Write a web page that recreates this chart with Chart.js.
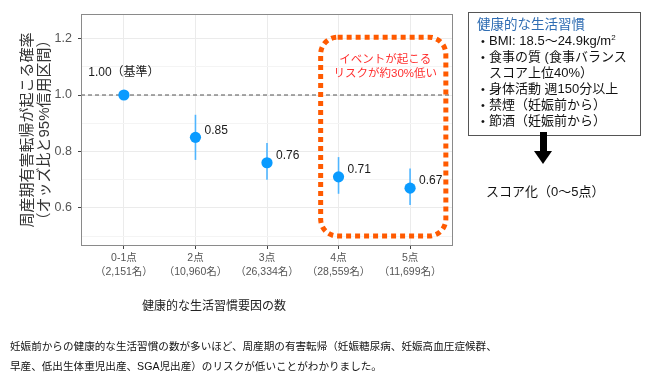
<!DOCTYPE html>
<html lang="ja">
<head>
<meta charset="utf-8">
<script src="https://cdn.jsdelivr.net/npm/chart.js@4.4.1/dist/chart.umd.min.js"></script>
<style>
  html, body { margin: 0; padding: 0; background: #fff; }
  body { width: 650px; height: 383px; position: relative; overflow: hidden;
         font-family: "Liberation Sans", "Noto Sans CJK JP", sans-serif; }
  #c { position: absolute; left: 0; top: 0; }
  .abs { position: absolute; white-space: nowrap; }
  #side { left: 468px; top: 12px; width: 171px; height: 118px; border: 1px solid #555;
          padding: 4px 0 0 0; box-sizing: content-box; font-size: 13px; line-height: 16px; color: #111; }
  #side .ttl { color: #2f6db3; font-size: 13.5px; padding-left: 8px; }
  #side .it { position: relative; padding-left: 20px; }
  #side .it::before { content: "•"; position: absolute; left: 12px; top: 0; font-size: 11px; }
  #side .cont { padding-left: 20px; }
  #shaft { left: 540px; top: 132px; width: 7px; height: 20px; background: #000; }
  #head { left: 534px; top: 151px; width: 0; height: 0; border-left: 9.5px solid transparent;
          border-right: 9.5px solid transparent; border-top: 13px solid #000; }
  #score { left: 486px; top: 183px; font-size: 13px; line-height: 17px; color: #111; }
  #xtitle { left: 214px; top: 298px; transform: translateX(-50%); font-size: 12px; line-height: 16px; color: #222; }
  #caption { left: 10px; top: 337px; font-size: 10.6px; line-height: 19.5px; color: #111; }
</style>
</head>
<body>
<canvas id="c" width="650" height="383"></canvas>
<div id="side" class="abs">
  <div class="ttl">健康的な生活習慣</div>
  <div class="it">BMI: 18.5〜24.9kg/m<sup style="font-size:8px;line-height:0">2</sup></div>
  <div class="it">食事の質 (食事バランス</div>
  <div class="cont">スコア上位40%）</div>
  <div class="it">身体活動 週150分以上</div>
  <div class="it">禁煙（妊娠前から）</div>
  <div class="it">節酒（妊娠前から）</div>
</div>
<div id="shaft" class="abs"></div>
<div id="head" class="abs"></div>
<div id="score" class="abs">スコア化（0〜5点）</div>
<div id="xtitle" class="abs">健康的な生活習慣要因の数</div>
<div id="caption" class="abs">妊娠前からの健康的な生活習慣の数が多いほど、周産期の有害転帰（妊娠糖尿病、妊娠高血圧症候群、<br>早産、低出生体重児出産、SGA児出産）のリスクが低いことがわかりました。</div>
<script>
// ---- data ----
const categories = ['0-1点', '2点', '3点', '4点', '5点'];
const sampleSizes = ['（2,151名）', '（10,960名）', '（26,334名）', '（28,559名）', '（11,699名）'];
const oddsRatio = [1.00, 0.85, 0.76, 0.71, 0.67];
const ciLower = [null, 0.77, 0.70, 0.65, 0.61];
const ciUpper = [null, 0.93, 0.83, 0.78, 0.74];
const valueLabels = ['1.00（基準）', '0.85', '0.76', '0.71', '0.67'];
const yTickLabels = [0.6, 0.8, 1.0, 1.2];
const yMinorTicks = [0.5, 0.7, 0.9, 1.1];
const referenceValue = 1.0;
const highlightX = [3.75, 5.5];
const highlightY = [0.5, 1.205];
const highlightText = ['イベントが起こる', 'リスクが約30%低い'];

const FONT = '"Liberation Sans", "Noto Sans CJK JP", sans-serif';
const points = oddsRatio.map((v, i) => ({ x: i + 1, y: v }));

const overlay = {
  id: 'overlay',
  beforeDatasetsDraw(chart) {
    const { ctx, chartArea: a, scales: { x, y } } = chart;
    ctx.save();
    // reference line
    const ry = y.getPixelForValue(referenceValue);
    ctx.strokeStyle = '#555';
    ctx.lineWidth = 1.1;
    ctx.setLineDash([4, 3]);
    ctx.beginPath(); ctx.moveTo(a.left, ry); ctx.lineTo(a.right, ry); ctx.stroke();
    ctx.setLineDash([]);
    // error bars
    ctx.strokeStyle = '#4fb5ff';
    ctx.lineWidth = 1.6;
    oddsRatio.forEach((v, i) => {
      if (ciLower[i] == null) return;
      const px = x.getPixelForValue(i + 1);
      ctx.beginPath();
      ctx.moveTo(px, y.getPixelForValue(ciLower[i]));
      ctx.lineTo(px, y.getPixelForValue(ciUpper[i]));
      ctx.stroke();
    });
    ctx.restore();
  },
  afterDatasetsDraw(chart) {
    const { ctx, chartArea: a, scales: { x, y } } = chart;
    ctx.save();
    // panel border
    ctx.strokeStyle = '#8a8a8a';
    ctx.lineWidth = 1;
    ctx.strokeRect(a.left + 0.5, a.top + 0.5, a.right - a.left - 1, a.bottom - a.top - 1);
    // value labels
    ctx.fillStyle = '#1a1a1a';
    ctx.font = '12px ' + FONT;
    ctx.textBaseline = 'middle';
    oddsRatio.forEach((v, i) => {
      const px = x.getPixelForValue(i + 1);
      const py = y.getPixelForValue(v);
      if (i === 0) {
        ctx.textAlign = 'center';
        ctx.fillText(valueLabels[i], px, py - 22);
      } else {
        ctx.textAlign = 'left';
        ctx.fillText(valueLabels[i], px + 9, py - 7);
      }
    });
    // highlight box
    const bx0 = x.getPixelForValue(highlightX[0]), bx1 = x.getPixelForValue(highlightX[1]);
    const by0 = y.getPixelForValue(highlightY[1]), by1 = y.getPixelForValue(highlightY[0]);
    ctx.strokeStyle = '#ff5a00';
    ctx.lineWidth = 5;
    ctx.setLineDash([5, 4]);
    ctx.beginPath();
    ctx.roundRect(bx0, by0, bx1 - bx0, by1 - by0, 17);
    ctx.stroke();
    ctx.setLineDash([]);
    ctx.fillStyle = '#ff3030';
    ctx.font = '11.5px ' + FONT;
    ctx.textAlign = 'center';
    const cx = (bx0 + bx1) / 2 + 2;
    ctx.fillText(highlightText[0], cx, by0 + 23);
    ctx.fillText(highlightText[1], cx, by0 + 37);
    ctx.restore();
  }
};

new Chart(document.getElementById('c'), {
  type: 'scatter',
  data: {
    datasets: [{
      data: points,
      pointRadius: 5.6,
      pointHoverRadius: 5.6,
      pointBackgroundColor: '#0a9bff',
      pointBorderWidth: 0,
      showLine: false
    }]
  },
  options: {
    responsive: false,
    animation: false,
    events: [],
    layout: { padding: { left: 0, top: 14, right: 197, bottom: 0 } },
    plugins: { legend: { display: false }, tooltip: { enabled: false } },
    scales: {
      x: {
        type: 'linear',
        min: 0.4, max: 5.6,
        afterBuildTicks: s => { s.ticks = categories.map((c, i) => ({ value: i + 1 })); },
        afterFit: s => { s.height = 137; },
        ticks: {
          autoSkip: false, maxRotation: 0, padding: 2,
          color: '#555',
          font: { family: FONT, size: 10.5, lineHeight: 1.34 },
          callback: (v) => [categories[v - 1], sampleSizes[v - 1]]
        },
        grid: { color: '#ebebeb', lineWidth: 1, tickLength: 3, tickColor: '#444', drawTicks: true },
        border: { display: false }
      },
      y: {
        type: 'linear',
        min: 0.465, max: 1.287,
        afterBuildTicks: s => {
          s.ticks = yMinorTicks.concat(yTickLabels).sort((a, b) => a - b).map(v => ({ value: v }));
        },
        afterFit: s => { s.width = 81; },
        ticks: {
          padding: 6,
          color: '#555',
          font: { family: FONT, size: 12.5 },
          callback: v => yTickLabels.some(t => Math.abs(t - v) < 1e-6) ? v.toFixed(1) : ''
        },
        grid: {
          tickLength: 3,
          color: c => yTickLabels.some(t => Math.abs(t - c.tick.value) < 1e-6) ? '#ebebeb' : '#f4f4f4',
          tickColor: c => yTickLabels.some(t => Math.abs(t - c.tick.value) < 1e-6) ? '#444' : 'rgba(0,0,0,0)'
        },
        border: { display: false },
        title: {
          display: true,
          text: ['周産期有害転帰が起こる確率', '（オッズ比と95%信用区間）'],
          color: '#333',
          font: { family: FONT, size: 15, lineHeight: 1.14 },
          padding: { top: 19, bottom: 0 }
        }
      }
    }
  },
  plugins: [overlay]
});
</script>
</body>
</html>
